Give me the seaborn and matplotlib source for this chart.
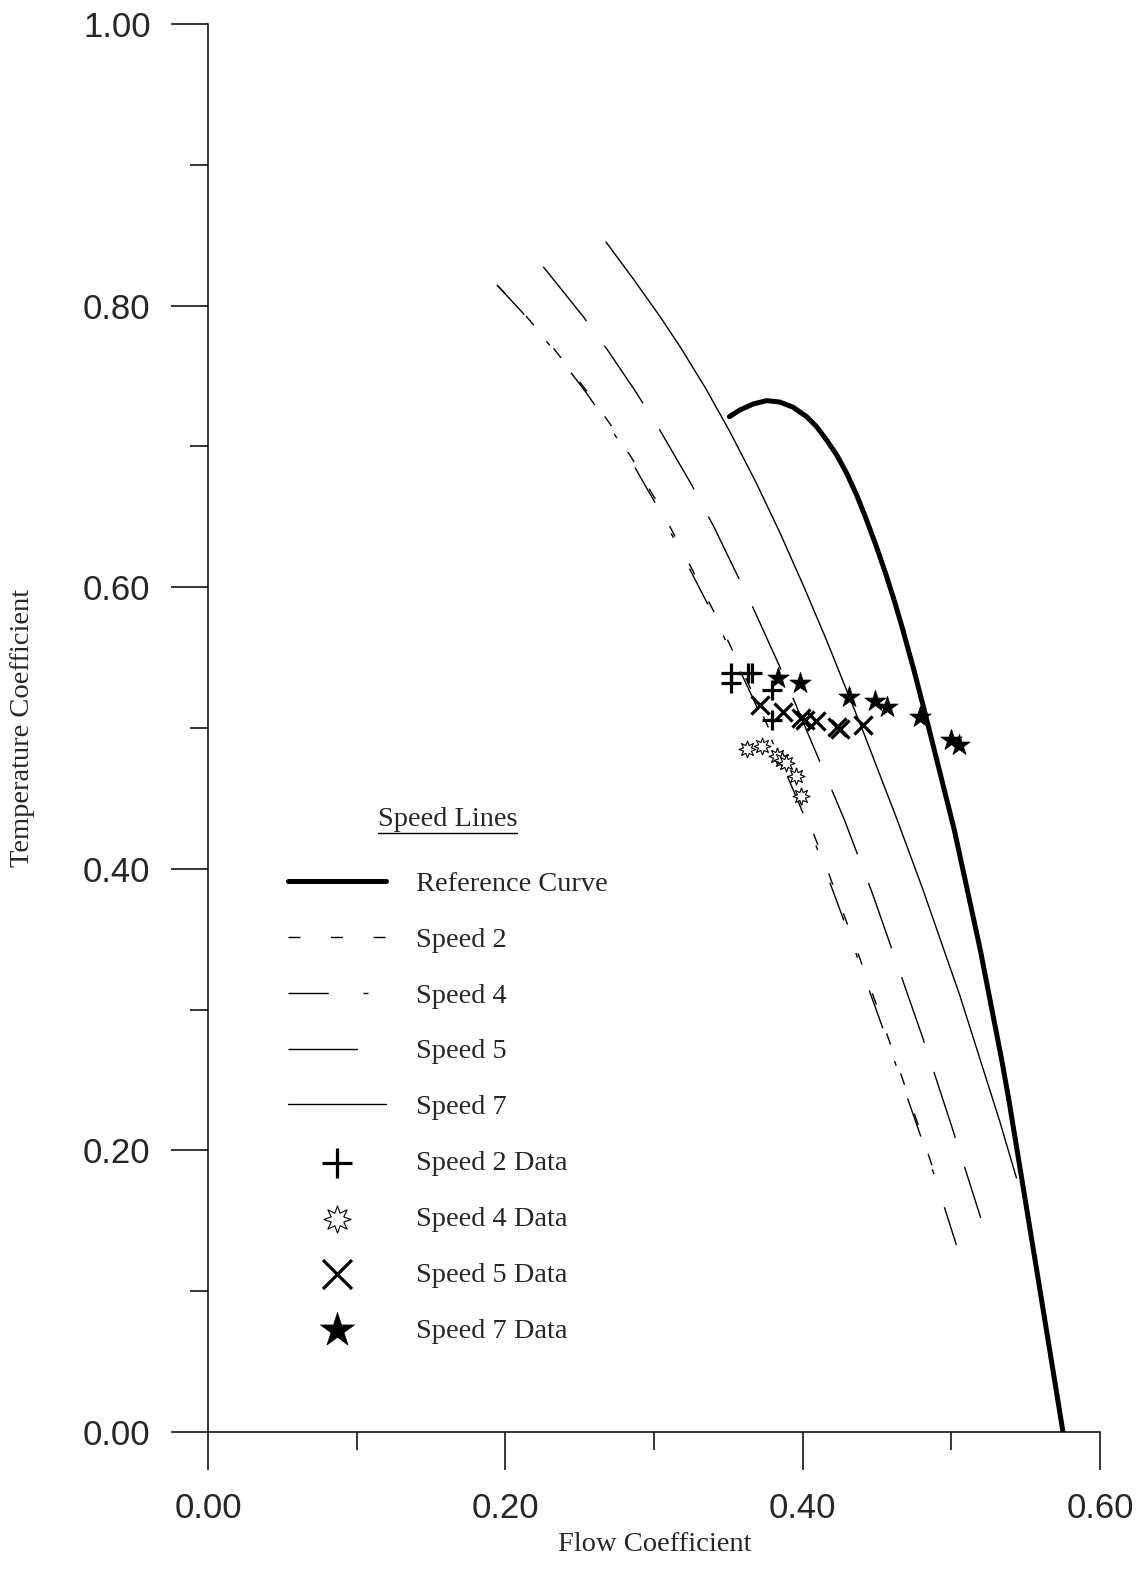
import matplotlib
matplotlib.use("Agg")
import matplotlib.pyplot as plt
from matplotlib.lines import Line2D
from matplotlib.ticker import MultipleLocator, FormatStrFormatter
import seaborn as sns
import pandas as pd

# ---------------- data ----------------
ref_x = [0.3507, 0.3578, 0.3667, 0.3757, 0.3846, 0.3936, 0.4027, 0.4094, 0.4161,
         0.4229, 0.4296, 0.4363, 0.4430, 0.4496, 0.4558, 0.4615, 0.4671, 0.4748,
         0.4823, 0.5020, 0.5195, 0.5339, 0.5387, 0.5571, 0.5751]
ref_y = [0.7211, 0.7259, 0.7301, 0.7325, 0.7315, 0.7278, 0.7211, 0.7140, 0.7045,
         0.6939, 0.6809, 0.6655, 0.6477, 0.6288, 0.6098, 0.5909, 0.5708, 0.5412,
         0.5107, 0.4276, 0.3423, 0.2642, 0.2358, 0.1172, 0.0000]

sp2_x = [0.1944, 0.2114, 0.2337, 0.2553, 0.2700, 0.2854, 0.3042, 0.3425, 0.3664,
         0.3783, 0.3987, 0.4122, 0.4357, 0.4624, 0.4885]
sp2_y = [0.8146, 0.7957, 0.7680, 0.7386, 0.7166, 0.6911, 0.6563, 0.5781, 0.5249,
         0.4972, 0.4474, 0.4119, 0.3445, 0.2656, 0.1847]

sp4_x = [0.1944, 0.2110, 0.2329, 0.2541, 0.2686, 0.2839, 0.3027, 0.3410, 0.3649,
         0.3768, 0.3972, 0.4107, 0.4343, 0.4611, 0.4878, 0.5034]
sp4_y = [0.8146, 0.7957, 0.7680, 0.7386, 0.7166, 0.6911, 0.6563, 0.5781, 0.5249,
         0.4972, 0.4474, 0.4119, 0.3445, 0.2656, 0.1847, 0.1328]

sp5_x = [0.2255, 0.2521, 0.2687, 0.2869, 0.3023, 0.3250, 0.3403, 0.3661, 0.3847,
         0.4281, 0.4473, 0.4806, 0.5006, 0.5198]
sp5_y = [0.8276, 0.7926, 0.7685, 0.7401, 0.7145, 0.6733, 0.6428, 0.5866, 0.5433,
         0.4347, 0.3814, 0.2805, 0.2159, 0.1520]

sp7_x = [0.2677, 0.2861, 0.3047, 0.3181, 0.3346, 0.3508, 0.3685, 0.3851, 0.4012,
         0.4160, 0.4403, 0.4636, 0.4805, 0.5056, 0.5327, 0.5438]
sp7_y = [0.8452, 0.8189, 0.7912, 0.7699, 0.7415, 0.7109, 0.6747, 0.6378, 0.5994,
         0.5625, 0.4986, 0.4347, 0.3864, 0.3104, 0.2202, 0.1804]

d2_x = [0.3518, 0.3518, 0.3632, 0.3659, 0.3794, 0.3794]
d2_y = [0.5390, 0.5320, 0.5390, 0.5390, 0.5270, 0.5057]

d4_x = [0.3625, 0.3726, 0.3827, 0.3861, 0.3888, 0.3955, 0.3989]
d4_y = [0.4851, 0.4872, 0.4801, 0.4773, 0.4751, 0.4659, 0.4517]

d5_x = [0.3713, 0.3868, 0.3989, 0.4016, 0.4090, 0.4231, 0.4251, 0.4406]
d5_y = [0.5163, 0.5114, 0.5071, 0.5057, 0.5050, 0.5007, 0.4993, 0.5021]

d7_x = [0.3834, 0.3982, 0.4312, 0.4486, 0.4567, 0.4789, 0.4998, 0.5051]
d7_y = [0.5355, 0.5320, 0.5220, 0.5192, 0.5149, 0.5078, 0.4915, 0.4879]

xticks = [0.0, 0.2, 0.4, 0.6]
yticks = [0.0, 0.2, 0.4, 0.6, 0.8, 1.0]

# ---------------- style ----------------
sns.set_style("ticks")
plt.rcParams["font.family"] = ["Liberation Serif", "DejaVu Serif"]
plt.rcParams["lines.scale_dashes"] = False
SERIF = "Liberation Serif"
SANS = "Liberation Sans"

W, H = 1144, 1574
fig = plt.figure(figsize=(W / 100, H / 100), dpi=100)
ax = fig.add_axes([208 / W, 1 - 1432 / H, (1100 - 208) / W, (1432 - 24) / H])

lw_thin = 1.0

def line(xs, ys, label, **kw):
    df = pd.DataFrame({"x": xs, "y": ys})
    sns.lineplot(data=df, x="x", y="y", sort=False, estimator=None, ax=ax,
                 color="black", label=label, **kw)

line(ref_x, ref_y, "Reference Curve", linewidth=3.6, solid_capstyle="round",
     solid_joinstyle="round")
line(sp2_x, sp2_y, "Speed 2", linewidth=lw_thin, linestyle=(0, (8.6, 22)))
line(sp4_x, sp4_y, "Speed 4", linewidth=lw_thin, linestyle=(0, (29, 25, 3.6, 25)))
line(sp5_x, sp5_y, "Speed 5", linewidth=lw_thin, linestyle=(0, (50, 22)))
line(sp7_x, sp7_y, "Speed 7", linewidth=lw_thin, linestyle="-")

sns.scatterplot(x=d2_x, y=d2_y, marker="+", s=190, color="black", linewidth=2.3,
                ax=ax, label="Speed 2 Data", zorder=5)
sns.scatterplot(x=d4_x, y=d4_y, marker=(8, 1, 0), s=150, facecolor="white",
                edgecolor="black", linewidth=0.8, ax=ax, label="Speed 4 Data", zorder=5)
sns.scatterplot(x=d5_x, y=d5_y, marker="x", s=170, color="black", linewidth=2.3,
                ax=ax, label="Speed 5 Data", zorder=5)
sns.scatterplot(x=d7_x, y=d7_y, marker="*", s=260, color="black", edgecolor="black",
                linewidth=0.5, ax=ax, label="Speed 7 Data", zorder=5)

ax.set_xlim(0, 0.6)
ax.set_ylim(0, 1.0)
ax.set_xticks(xticks)
ax.set_yticks(yticks)
ax.xaxis.set_minor_locator(MultipleLocator(0.1))
ax.yaxis.set_minor_locator(MultipleLocator(0.1))
ax.xaxis.set_major_formatter(FormatStrFormatter("%.2f"))
ax.yaxis.set_major_formatter(FormatStrFormatter("%.2f"))
for s in ["top", "right"]:
    ax.spines[s].set_visible(False)
for s in ["left", "bottom"]:
    ax.spines[s].set_linewidth(1.1)
    ax.spines[s].set_color("black")

ax.tick_params(axis="both", which="major", direction="out", length=27, width=1.1,
               color="black", labelsize=25)
ax.tick_params(axis="both", which="minor", direction="out", length=13, width=1.1,
               color="black")
ax.tick_params(axis="x", which="major", pad=16.5)
ax.tick_params(axis="y", which="major", pad=14.4)
for lab in ax.get_xticklabels() + ax.get_yticklabels():
    lab.set_fontfamily(SANS)

ax.set_xlabel("Flow Coefficient", fontsize=20.5, family=SERIF)
ax.set_ylabel("Temperature Coefficient", fontsize=20.5, family=SERIF)
ax.xaxis.set_label_coords((655 - 208) / 892, (1432 - 1532) / 1408)
ax.yaxis.set_label_coords((35 - 208) / 892, 0.5)

handles, labels = ax.get_legend_handles_labels()
leg = ax.legend(handles, labels, loc="upper left",
                bbox_to_anchor=(288 / W, 1 - 871 / H), bbox_transform=fig.transFigure,
                frameon=False, borderpad=0, borderaxespad=0,
                handlelength=3.45, handletextpad=1.05, labelspacing=1.06,
                markerscale=1.6, scatterpoints=1,
                prop={"family": SERIF, "size": 20.4})

fig.text(448 / W, 1 - 820 / H, "Speed Lines", ha="center", va="center",
         fontsize=20.4, family=SERIF)
fig.add_artist(Line2D([378 / W, 517 / W], [1 - 833 / H, 1 - 833 / H],
                      color="black", linewidth=1.0, transform=fig.transFigure))

fig.savefig("out.png", dpi=100, facecolor="white")
